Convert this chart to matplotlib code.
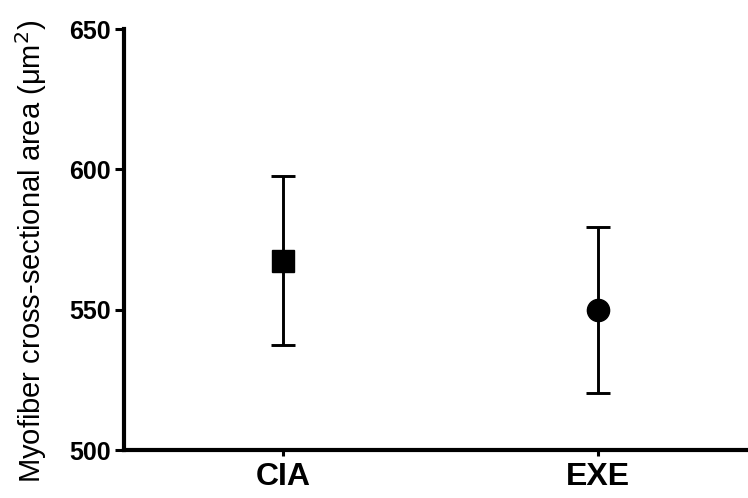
import matplotlib
matplotlib.use("Agg")
import matplotlib.pyplot as plt

groups = ["CIA", "EXE"]
means = [567.5, 550.0]
sem = [30.0, 29.6]
markers = ["s", "o"]

y_ticks = [500, 550, 600, 650]

fig = plt.figure(figsize=(7.48, 4.98), dpi=100)
ax = fig.add_axes([124 / 748, 1 - 450 / 498, 1 - 124 / 748, (450 - 29) / 498])

for i, (m, e, mk) in enumerate(zip(means, sem, markers)):
    ax.errorbar(i, m, yerr=e, fmt=mk, color="black", ecolor="black",
                markersize=16, elinewidth=2.1, capsize=8.5, capthick=2.1,
                clip_on=False, zorder=3)

ax.set_ylim(500, 650)
ax.set_xlim(-0.505, 1.476)
ax.set_yticks(y_ticks)
ax.set_xticks(range(len(groups)))
ax.set_xticklabels(groups, fontsize=23, fontweight="bold",
                   family="Liberation Sans")
ax.set_yticklabels([str(v) for v in y_ticks], fontsize=18,
                   fontweight="bold", family="Liberation Sans")

for side in ("top", "right"):
    ax.spines[side].set_visible(False)
for side in ("left", "bottom"):
    ax.spines[side].set_linewidth(3.0)
    ax.spines[side].set_capstyle("projecting")

ax.tick_params(axis="y", length=6.5, width=2.2, pad=3)
ax.tick_params(axis="x", length=4.5, width=2.2, pad=4)

ax.set_ylabel("Myofiber cross-sectional area (μm$^2$)", fontsize=21,
              family="Liberation Sans")
ax.yaxis.set_label_coords(-0.12, 0.473)

fig.savefig("out.png", dpi=100)
